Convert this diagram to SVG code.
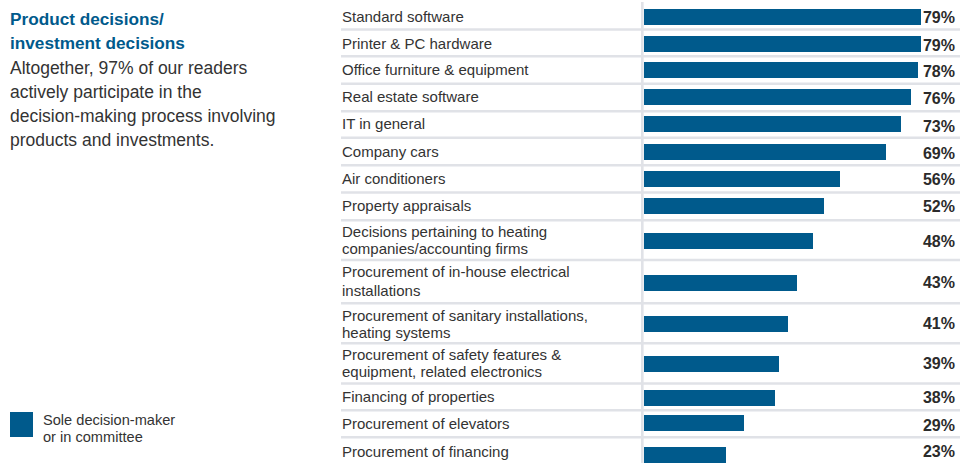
<svg xmlns="http://www.w3.org/2000/svg" width="960" height="463" viewBox="0 0 960 463">
<style>
.title{font-family:"Liberation Sans",Arial,sans-serif;font-size:17.2px;font-weight:bold;fill:#005a8c}
.body{font-family:"Liberation Sans",Arial,sans-serif;font-size:17.5px;fill:#333333}
.lbl{font-family:"Liberation Sans",Arial,sans-serif;font-size:15px;fill:#333333}
.leg{font-family:"Liberation Sans",Arial,sans-serif;font-size:14.6px;fill:#333333}
.pct{font-family:"Liberation Sans",Arial,sans-serif;font-size:16px;font-weight:bold;fill:#2b2b2b;text-anchor:end}
.bar{fill:#005a8c}
.sep{stroke:#e0e2e7;stroke-width:2.4}
</style>
<rect width="960" height="463" fill="#ffffff"/>
<g id="intro">
<text class="title" x="10" y="25">Product decisions/</text>
<text class="title" x="10" y="49">investment decisions</text>
<text class="body" x="10" y="74">Altogether, 97% of our readers</text>
<text class="body" x="10" y="97.7">actively participate in the</text>
<text class="body" x="10" y="121.7">decision-making process involving</text>
<text class="body" x="10" y="145.7">products and investments.</text>
</g>
<g id="legend">
<rect class="bar" x="10" y="412" width="23" height="25"/>
<text class="leg" x="43" y="425">Sole decision-maker</text>
<text class="leg" x="43" y="442">or in committee</text>
</g>
<g id="grid">
<rect x="641" y="2" width="2.6" height="461" fill="#e0e2e7"/>
<line class="sep" x1="341" y1="29.5" x2="960" y2="29.5"/>
<line class="sep" x1="341" y1="56.2" x2="960" y2="56.2"/>
<line class="sep" x1="341" y1="83.7" x2="960" y2="83.7"/>
<line class="sep" x1="341" y1="111.2" x2="960" y2="111.2"/>
<line class="sep" x1="341" y1="137.8" x2="960" y2="137.8"/>
<line class="sep" x1="341" y1="165.3" x2="960" y2="165.3"/>
<line class="sep" x1="341" y1="192.5" x2="960" y2="192.5"/>
<line class="sep" x1="341" y1="220.3" x2="960" y2="220.3"/>
<line class="sep" x1="341" y1="260" x2="960" y2="260"/>
<line class="sep" x1="341" y1="303.3" x2="960" y2="303.3"/>
<line class="sep" x1="341" y1="343.3" x2="960" y2="343.3"/>
<line class="sep" x1="341" y1="383.5" x2="960" y2="383.5"/>
<line class="sep" x1="341" y1="410.2" x2="960" y2="410.2"/>
<line class="sep" x1="341" y1="437.2" x2="960" y2="437.2"/>
</g>
<g id="row1"><text class="lbl" x="342" y="21.5">Standard software</text><rect class="bar" x="644" y="9" width="277" height="16"/><text class="pct" x="955" y="22.7">79%</text></g>
<g id="row2"><text class="lbl" x="342" y="48.5">Printer &amp; PC hardware</text><rect class="bar" x="644" y="36" width="277" height="16"/><text class="pct" x="955" y="51">79%</text></g>
<g id="row3"><text class="lbl" x="342" y="75.3">Office furniture &amp; equipment</text><rect class="bar" x="644" y="62" width="274" height="16"/><text class="pct" x="955" y="77.3">78%</text></g>
<g id="row4"><text class="lbl" x="342" y="102.3">Real estate software</text><rect class="bar" x="644" y="89" width="267" height="16"/><text class="pct" x="955" y="104.3">76%</text></g>
<g id="row5"><text class="lbl" x="342" y="129.3">IT in general</text><rect class="bar" x="644" y="116" width="257" height="16"/><text class="pct" x="955" y="131.7">73%</text></g>
<g id="row6"><text class="lbl" x="342" y="156.5">Company cars</text><rect class="bar" x="644" y="144" width="242" height="16"/><text class="pct" x="955" y="158.7">69%</text></g>
<g id="row7"><text class="lbl" x="342" y="183.5">Air conditioners</text><rect class="bar" x="644" y="171" width="196" height="16"/><text class="pct" x="955" y="185.3">56%</text></g>
<g id="row8"><text class="lbl" x="342" y="210.5">Property appraisals</text><rect class="bar" x="644" y="198" width="180" height="16"/><text class="pct" x="955" y="212.3">52%</text></g>
<g id="row9"><text class="lbl" x="342" y="237">Decisions pertaining to heating</text><text class="lbl" x="342" y="253.8">companies/accounting firms</text><rect class="bar" x="644" y="233" width="169" height="16"/><text class="pct" x="955" y="246.7">48%</text></g>
<g id="row10"><text class="lbl" x="342" y="276.7">Procurement of in-house electrical</text><text class="lbl" x="342" y="296">installations</text><rect class="bar" x="644" y="275" width="153" height="16"/><text class="pct" x="955" y="288.3">43%</text></g>
<g id="row11"><text class="lbl" x="342" y="320.8">Procurement of sanitary installations,</text><text class="lbl" x="342" y="337.6">heating systems</text><rect class="bar" x="644" y="316" width="144" height="16"/><text class="pct" x="955" y="329.3">41%</text></g>
<g id="row12"><text class="lbl" x="342" y="359.8">Procurement of safety features &amp;</text><text class="lbl" x="342" y="376.6">equipment, related electronics</text><rect class="bar" x="644" y="356" width="135" height="16"/><text class="pct" x="955" y="369.3">39%</text></g>
<g id="row13"><text class="lbl" x="342" y="402">Financing of properties</text><rect class="bar" x="644" y="390" width="131" height="16"/><text class="pct" x="955" y="403.3">38%</text></g>
<g id="row14"><text class="lbl" x="342" y="429.3">Procurement of elevators</text><rect class="bar" x="644" y="415" width="100" height="16"/><text class="pct" x="955" y="430.7">29%</text></g>
<g id="row15"><text class="lbl" x="342" y="456.7">Procurement of financing</text><rect class="bar" x="644" y="447" width="82" height="16"/><text class="pct" x="955" y="457.3">23%</text></g>
</svg>
